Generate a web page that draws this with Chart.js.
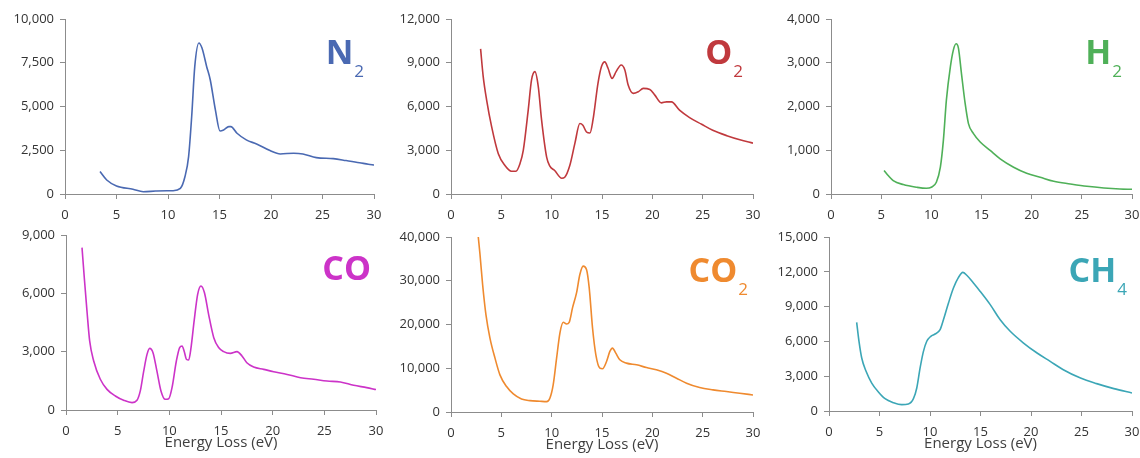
<!DOCTYPE html>
<html>
<head>
<meta charset="utf-8">
<script src="https://cdn.jsdelivr.net/npm/chart.js@4/dist/chart.umd.min.js"></script>
<style>
	body { margin: 0; background: #fff; }
	#wrap { position: relative; width: 1140px; height: 458px; overflow: hidden; }
	#wrap canvas { position: absolute; left: 0; top: 0; }
</style>
</head>
<body>
<div id="wrap">
	<canvas id="chartN2" width="1160" height="458"></canvas>
	<canvas id="chartO2" width="1160" height="458"></canvas>
	<canvas id="chartH2" width="1160" height="458"></canvas>
	<canvas id="chartCO" width="1160" height="458"></canvas>
	<canvas id="chartCO2" width="1160" height="458"></canvas>
	<canvas id="chartCH4" width="1160" height="458"></canvas>
</div>
<script>
// x axis ticks (eV), shared by all panels
let energyTicks = [0, 5, 10, 15, 20, 25, 30];
let axisTitle = "Energy Loss (eV)";

// N2
let n2Energy = [3.4, 4.05, 5.0, 6.6, 7.6, 8.8, 9.9, 10.5, 11.2, 11.65, 12.0, 12.3, 12.6, 13.0, 13.3, 13.75, 14.1, 14.6, 15.05, 15.4, 15.9, 16.1, 16.7, 17.6, 18.6, 19.9, 20.9, 22.2, 23.1, 24.4, 26.05, 27.3, 28.6, 29.45, 30];
let n2Counts = [1280, 800, 460, 270, 130, 170, 190, 190, 320, 1000, 2140, 4430, 7290, 8630, 8340, 7290, 6530, 4810, 3600, 3660, 3850, 3850, 3470, 3090, 2860, 2480, 2290, 2330, 2290, 2080, 2020, 1910, 1790, 1700, 1660];

// O2
let o2Energy = [2.94, 3.2, 3.54, 4.04, 4.7, 5.36, 6.0, 6.45, 6.85, 7.18, 7.67, 8.0, 8.34, 8.67, 9.0, 9.5, 9.82, 10.3, 11.0, 11.3, 11.8, 12.3, 12.8, 13.1, 13.46, 13.8, 14.1, 14.6, 14.95, 15.28, 15.6, 16.0, 16.4, 16.9, 17.27, 17.6, 18.1, 18.6, 19.1, 19.75, 20.25, 20.9, 21.4, 21.9, 22.7, 23.7, 24.9, 26.0, 27.4, 28.7, 30];
let o2Counts = [9950, 8050, 6440, 4600, 2760, 1950, 1560, 1560, 2070, 2990, 5750, 7820, 8390, 7360, 5060, 2530, 1910, 1610, 1080, 1150, 1950, 3450, 4830, 4710, 4250, 4180, 5060, 7590, 8740, 9060, 8620, 7930, 8390, 8850, 8510, 7470, 6900, 7010, 7240, 7170, 6780, 6250, 6320, 6320, 5750, 5240, 4780, 4370, 4000, 3720, 3490];

// H2
let h2Energy = [5.29, 5.7, 6.2, 7.2, 8.55, 9.5, 10.0, 10.5, 10.9, 11.2, 11.5, 11.9, 12.2, 12.47, 12.7, 13.0, 13.37, 13.7, 14.2, 14.87, 15.86, 16.86, 18.2, 19.5, 20.85, 22.2, 23.85, 25.5, 27.2, 28.8, 30];
let h2Counts = [536, 421, 307, 215, 153, 130, 153, 268, 613, 1226, 2145, 2912, 3295, 3433, 3333, 2759, 2069, 1609, 1379, 1188, 996, 805, 613, 475, 383, 291, 230, 176, 138, 115, 107];

// CO
let coEnergy = [1.55, 1.77, 2.03, 2.29, 2.68, 3.32, 3.97, 4.77, 5.58, 6.39, 6.87, 7.19, 7.52, 7.84, 8.1, 8.42, 8.8, 9.19, 9.6, 9.94, 10.26, 10.68, 11.0, 11.23, 11.45, 11.65, 11.87, 12.1, 12.4, 12.74, 13.06, 13.4, 13.8, 14.3, 14.77, 15.26, 15.9, 16.55, 17.03, 17.5, 18.16, 19.13, 20.1, 21.4, 22.7, 23.97, 25.26, 26.55, 27.84, 29.1, 30];
let coCounts = [8350, 6800, 5090, 3550, 2520, 1580, 1060, 720, 500, 380, 500, 980, 2000, 2860, 3170, 2950, 2000, 980, 550, 580, 1150, 2520, 3210, 3290, 3000, 2610, 2570, 3210, 4580, 5950, 6380, 6030, 4920, 3720, 3210, 3000, 2910, 3000, 2780, 2430, 2210, 2090, 1970, 1830, 1660, 1580, 1490, 1440, 1270, 1150, 1050];

// CO2
let co2Energy = [2.71, 2.88, 3.14, 3.47, 3.87, 4.37, 4.86, 5.52, 6.19, 7.0, 7.84, 8.83, 9.5, 9.82, 10.15, 10.49, 10.82, 11.15, 11.48, 11.74, 12.07, 12.47, 12.8, 13.13, 13.46, 13.73, 14.06, 14.39, 14.79, 15.05, 15.45, 15.78, 16.04, 16.37, 16.77, 17.43, 18.43, 19.42, 20.4, 21.4, 22.4, 23.4, 24.7, 26.03, 27.36, 28.68, 30];
let co2Counts = [40000, 36020, 29140, 22260, 16900, 12310, 8490, 5810, 4130, 2980, 2600, 2450, 2370, 3140, 6200, 12310, 18050, 20500, 20110, 20500, 23790, 27230, 31430, 33350, 32580, 28370, 19200, 13080, 10020, 9870, 11550, 13840, 14610, 13460, 11930, 11170, 10780, 10170, 9640, 8870, 7720, 6580, 5580, 5050, 4670, 4280, 3900];

// CH4
let ch4Energy = [2.74, 2.97, 3.24, 3.67, 4.23, 4.89, 5.55, 6.38, 7.2, 7.86, 8.36, 8.69, 9.02, 9.35, 9.68, 10.08, 10.5, 11.0, 11.33, 11.83, 12.32, 12.82, 13.25, 13.64, 14.3, 14.97, 15.96, 16.95, 17.94, 19.26, 20.6, 21.9, 23.2, 24.9, 26.5, 28.2, 30];
let ch4Counts = [7640, 6000, 4570, 3420, 2410, 1640, 1060, 720, 550, 600, 1060, 1980, 3710, 5140, 6010, 6440, 6640, 7010, 7870, 9310, 10600, 11520, 11950, 11700, 11030, 10310, 9170, 7870, 6870, 5860, 5000, 4280, 3560, 2840, 2360, 1930, 1550];

// 패널 배치 (chart area, px)
const panels = [
	{ id: "chartN2", name: "N", sub: "2", color: "#4a69b2", x: n2Energy, y: n2Counts, max: 10000, step: 2500, area: [65, 19, 374, 194], title: false },
	{ id: "chartO2", name: "O", sub: "2", color: "#c0393d", x: o2Energy, y: o2Counts, max: 12000, step: 3000, area: [451, 19, 753, 194], title: false },
	{ id: "chartH2", name: "H", sub: "2", color: "#4fb058", x: h2Energy, y: h2Counts, max: 4000, step: 1000, area: [831, 19, 1132, 194], title: false },
	{ id: "chartCO", name: "CO", sub: "", color: "#cc33c8", x: coEnergy, y: coCounts, max: 9000, step: 3000, area: [66, 235, 376, 410], title: true },
	{ id: "chartCO2", name: "CO", sub: "2", color: "#ef8a2f", x: co2Energy, y: co2Counts, max: 40000, step: 10000, area: [451, 237, 753, 412], title: true },
	{ id: "chartCH4", name: "CH", sub: "4", color: "#3ba6b6", x: ch4Energy, y: ch4Counts, max: 15000, step: 3000, area: [829, 237, 1132, 411], title: true },
];

const FONT = "'Open Sans', 'DejaVu Sans', sans-serif";

// 가스 이름 (N2, O2 ...) 그리는 플러그인
const gasLabel = {
	id: "gasLabel",
	afterDraw(chart, args, opts) {
		const ctx = chart.ctx;
		const a = chart.chartArea;
		const right = a.right - opts.inset;
		const base = a.top + 45;
		ctx.save();
		ctx.fillStyle = opts.color;
		ctx.textBaseline = "alphabetic";
		ctx.textAlign = "right";
		let x = right;
		if (opts.sub) {
			ctx.font = "17px " + FONT;
			ctx.fillText(opts.sub, x, base + 13);
			x -= ctx.measureText(opts.sub).width + 1;
		}
		ctx.font = "bold 34px " + FONT;
		ctx.fillText(opts.name, x, base);
		ctx.restore();
	}
};

function createChart(p) {
	const W = 1160, H = 458;
	const yWidth = 60;
	const xHeight = p.title ? 44 : 26;
	const ctx = document.getElementById(p.id).getContext("2d");
	const points = p.x.map((v, i) => ({ x: v, y: p.y[i] }));

	new Chart(ctx, {
		type: "line",
		data: {
			datasets: [{
				data: points,
				borderColor: p.color,
				borderWidth: 1.6,
				pointRadius: 0,
				cubicInterpolationMode: "monotone",
				fill: false,
			}],
		},
		options: {
			responsive: false,
			animation: false,
			events: [],
			devicePixelRatio: 1,
			layout: {
				padding: {
					left: p.area[0] - yWidth,
					top: p.area[1],
					right: W - p.area[2],
					bottom: H - p.area[3] - xHeight,
				},
			},
			plugins: {
				legend: { display: false },
				tooltip: { enabled: false },
				gasLabel: { name: p.name, sub: p.sub, color: p.color, inset: p.title ? 5 : 10 },
			},
			scales: {
				x: {
					type: "linear",
					min: 0,
					max: 30,
					afterFit: (s) => { s.height = xHeight; },
					afterBuildTicks: (s) => { s.ticks = energyTicks.map(v => ({ value: v })); },
					grid: { drawOnChartArea: false, drawTicks: true, tickLength: 5, color: "#8c8c8c" },
					border: { color: "#8c8c8c", width: 1 },
					ticks: { padding: 8, color: "#333", font: { family: FONT, size: 13 }, maxRotation: 0 },
					title: { display: p.title, text: axisTitle, color: "#404040", font: { family: FONT, size: 15 }, padding: { top: 0, bottom: 2 } },
				},
				y: {
					min: 0,
					max: p.max,
					afterFit: (s) => { s.width = yWidth; },
					grid: { drawOnChartArea: false, drawTicks: true, tickLength: 5, color: "#8c8c8c" },
					border: { color: "#8c8c8c", width: 1 },
					ticks: {
						stepSize: p.step,
						padding: 6,
						color: "#333",
						font: { family: FONT, size: 13 },
						callback: (v) => v.toLocaleString("en-US"),
					},
				},
			},
		},
		plugins: [gasLabel],
	});
}

panels.forEach(createChart);
</script>
</body>
</html>
